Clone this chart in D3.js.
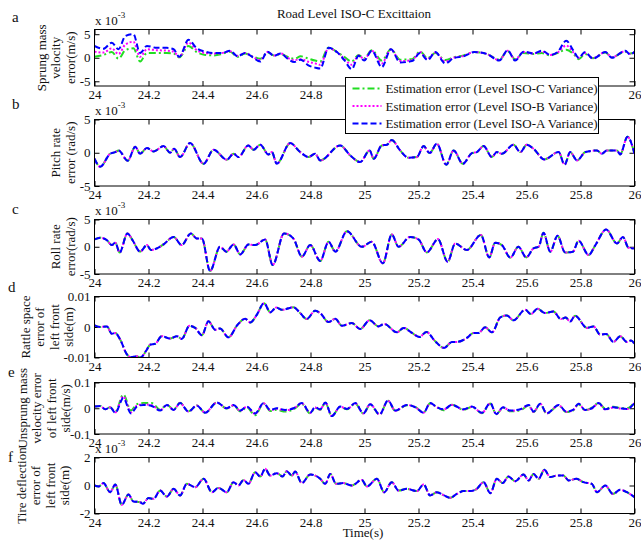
<!DOCTYPE html>
<html>
<head>
<meta charset="utf-8">
<script src="https://cdn.jsdelivr.net/npm/d3@7"></script>
<style>
  body { margin: 0; background: #fff; }
  text { font-family: "Liberation Serif", "Times New Roman", serif; font-size: 13px; fill: #111; }
</style>
</head>
<body>
<svg width="641" height="547"></svg>
<script>
// ---------------- data ----------------
var seriesNames = ["Estimation error (Level ISO-C Variance)",
                   "Estimation error (Level ISO-B Variance)",
                   "Estimation error (Level ISO-A Variance)"];

// a: sprung mass velocity error (x1e-3 m/s)
var tA = [24.000,24.033,24.064,24.089,24.114,24.144,24.169,24.194,24.231,24.268,24.293,24.314,24.348,24.379,24.410,24.441,24.472,24.502,24.530,24.558,24.586,24.614,24.641,24.665,24.690,24.715,24.740,24.764,24.789,24.817,
          24.836,24.867,24.898,24.925,24.953,24.978,24.999,25.027,25.064,25.098,25.132,25.176,25.206,25.234,25.262,25.299,25.330,25.367,25.406,25.453,25.499,25.530,25.558,25.589,25.626,25.657,25.688,25.715,25.747,25.774,25.793,25.817,25.846,25.892,25.916,25.966,25.984,26.000];
var aIsoA = [2.5,1.9,3.2,1.8,4.6,5.0,1.0,2.5,2.1,2.1,1.8,0.2,3.8,2.0,1.3,1.0,1.0,1.5,0.3,1.0,0.1,-0.8,1.3,0.4,0.9,-0.2,-0.9,-0.4,-1.5,-2.1,
             -2.3,2.1,1.2,-0.5,-2.4,0.4,-0.6,1.5,-2.0,1.8,-1.0,-0.7,1.0,-0.5,1.2,-1.2,-0.1,0.3,1.2,0.8,-0.6,1.6,-0.6,1.3,0.9,1.5,0.6,1.2,3.6,1.5,0.0,1.2,-0.2,1.2,0.0,1.5,0.7,1.3];
var aIsoB = [1.3,1.1,2.0,0.8,2.8,3.4,0.2,1.8,1.6,1.5,1.3,0.2,3.2,1.6,1.0,0.9,1.0,1.4,0.4,1.0,0.2,-0.5,1.2,0.5,0.9,0.0,-0.5,-0.3,-0.8,-1.2,
             -1.5,2.0,1.2,-0.2,-1.5,0.5,-0.3,1.5,-1.2,1.8,-0.7,-0.5,1.2,-0.3,1.1,-0.8,0.0,0.4,1.2,0.8,-0.5,1.5,-0.4,1.2,0.9,1.3,0.6,1.1,2.6,1.1,0.0,1.0,-0.1,1.2,0.1,1.4,0.8,1.2];
var aIsoC = [0.2,0.6,1.2,-0.2,1.6,2.0,-0.8,1.0,1.0,1.0,0.9,0.1,2.5,1.2,0.6,0.5,0.8,1.3,0.2,0.9,0.3,-0.2,1.1,0.5,0.8,0.2,-0.2,0.3,-0.1,-0.6,
             -0.8,2.2,1.2,0.2,-0.8,0.6,-0.1,1.6,-0.6,1.8,-0.4,-0.3,1.3,-0.1,1.0,-0.5,0.1,0.5,1.2,0.8,-0.4,1.4,-0.3,1.0,0.8,1.0,0.5,1.0,1.7,0.8,-0.3,0.8,-0.1,1.1,0.1,1.3,0.9,1.1];

// b: pitch rate error (x1e-3 rad/s), the three estimates coincide
var tB = [24.000,24.021,24.058,24.077,24.089,24.123,24.151,24.169,24.194,24.219,24.256,24.280,24.295,24.317,24.354,24.404,24.441,24.490,24.515,24.533,24.570,24.589,24.614,24.644,24.657,24.675,24.725,24.762,24.793,24.817,
          24.836,24.910,24.947,24.984,25.019,25.034,25.064,25.083,25.101,25.132,25.163,25.194,25.219,25.241,25.268,25.303,25.330,25.364,25.398,25.416,25.441,25.472,25.490,25.509,25.552,25.577,25.601,25.626,25.666,25.719,25.741,25.762,25.787,25.818,25.861,25.879,25.898,25.935,25.947,25.974,26.000];
var bErr = [-0.9,-2.1,-0.15,0.1,0.35,-1.2,0.9,-0.15,0.7,0.2,1.0,0.0,0.6,-0.65,1.45,-1.65,0.45,-1.05,-0.15,-0.65,1.1,0.45,1.2,-0.25,0.1,-1.65,1.45,0.1,-0.65,-0.15,
            -1.15,1.1,-0.4,-1.4,0.35,-0.9,1.1,1.2,1.9,0.35,-0.75,-0.65,1.0,-0.05,1.35,-1.8,0.35,-1.65,-0.05,0.1,1.0,-0.65,0.1,-0.15,1.2,0.1,1.2,0.6,-1.0,0.1,-1.8,0.1,-1.15,0.1,0.35,-0.15,0.35,0.35,-0.25,2.4,-0.15];

// c: roll rate error (x1e-3 rad/s)
var tC = [24.000,24.021,24.046,24.064,24.077,24.093,24.122,24.141,24.169,24.194,24.209,24.231,24.256,24.293,24.323,24.357,24.379,24.398,24.428,24.465,24.488,24.515,24.540,24.570,24.595,24.632,24.660,24.702,24.737,24.768,24.799,
          24.836,24.867,24.892,24.935,24.990,25.027,25.068,25.101,25.126,25.169,25.200,25.231,25.272,25.308,25.336,25.379,25.431,25.462,25.484,25.509,25.540,25.570,25.599,25.626,25.645,25.663,25.688,25.715,25.743,25.772,25.793,25.830,25.854,25.895,25.935,25.957,25.978,26.000];
var cErr = [1.35,1.65,1.2,0.3,0.75,-1.05,2.45,1.2,-0.9,0.3,-0.6,-0.3,0.45,1.8,0.3,2.45,1.5,1.5,-4.45,0.0,-0.9,0.4,-1.4,0.4,0.3,1.35,-3.35,2.45,1.5,-1.8,0.3,
            -2.6,0.9,-0.9,2.85,0.0,0.9,-3.05,2.25,0.0,1.8,1.35,-1.05,1.4,-2.75,0.6,-0.6,2.15,-1.95,0.75,0.3,-2.0,0.0,-1.95,-0.3,0.0,2.55,-0.9,2.0,-1.05,-0.9,1.1,-1.5,0.2,3.15,0.6,1.8,-0.2,-0.3];

// d: rattle space error, left front (x1e-3 m)
var tD = [24.000,24.021,24.046,24.064,24.077,24.095,24.120,24.135,24.157,24.169,24.194,24.206,24.225,24.249,24.280,24.305,24.323,24.352,24.373,24.398,24.422,24.447,24.465,24.496,24.530,24.558,24.577,24.601,24.628,24.651,24.673,24.694,24.737,24.762,24.786,24.817,
          24.836,24.867,24.892,24.916,24.953,24.984,25.019,25.052,25.073,25.120,25.145,25.176,25.204,25.229,25.262,25.295,25.324,25.342,25.379,25.404,25.422,25.447,25.472,25.503,25.527,25.552,25.595,25.616,25.641,25.669,25.700,25.727,25.745,25.762,25.780,25.824,25.848,25.873,25.895,25.922,25.947,25.972,25.987,26.000];
var dErr = [0.55,0.0,0.2,-2.2,-2.0,-4.1,-9.0,-9.9,-9.6,-10.1,-7.4,-5.8,-5.5,-3.0,-3.8,-3.0,-3.9,0.4,-0.3,-2.7,1.85,-0.9,-0.5,-3.4,0.75,2.7,1.5,4.0,7.8,4.8,6.4,5.65,6.5,4.55,2.6,5.3,
            4.55,1.6,2.7,0.4,1.3,-0.65,2.2,0.2,1.0,-1.75,-0.3,-1.95,-3.25,-1.6,-4.7,-6.85,-4.9,-4.9,-3.6,-1.95,-1.95,-0.1,-1.75,3.15,3.8,2.2,5.65,4.25,6.0,4.55,5.1,2.6,3.1,1.8,3.7,-0.3,0.2,-2.5,-2.3,-4.9,-3.0,-4.9,-4.45,-5.5];

// e: unsprung mass velocity error, left front (x1e-2 m/s)
var tE = [24.000,24.021,24.040,24.058,24.077,24.107,24.135,24.157,24.181,24.212,24.243,24.268,24.293,24.317,24.348,24.379,24.410,24.453,24.490,24.515,24.540,24.564,24.595,24.626,24.651,24.675,24.706,24.737,24.768,24.799,24.817,
          24.836,24.855,24.879,24.910,24.935,24.966,24.996,25.021,25.056,25.087,25.114,25.157,25.188,25.219,25.243,25.268,25.293,25.324,25.367,25.398,25.435,25.466,25.488,25.513,25.540,25.577,25.608,25.626,25.651,25.675,25.719,25.747,25.772,25.793,25.817,25.842,25.867,25.892,25.922,25.947,25.972,26.000];
var eIsoA = [0.65,0.9,-0.4,0.4,-1.75,4.0,-2.0,0.65,1.3,0.9,-0.9,1.3,-0.65,2.0,-1.3,1.05,-1.75,2.25,0.0,1.3,-0.9,0.65,-2.0,2.0,-0.65,0.0,-0.65,0.0,2.0,-1.75,0.4,
             -0.4,2.25,-3.05,0.65,-0.25,2.0,-2.0,1.6,-2.4,3.05,-0.9,1.3,0.4,-1.75,2.0,0.4,-0.4,1.3,-0.4,0.65,-1.75,2.0,-2.25,0.4,-0.9,-0.4,1.3,-1.3,1.75,-2.0,1.3,-1.3,-0.65,1.75,-0.65,0.0,2.0,-0.4,0.4,0.0,-0.25,2.0];
var eIsoB = [0.65,0.9,-0.4,0.4,-1.6,4.6,-1.6,1.0,1.5,1.2,-0.8,1.3,-0.6,2.0,-1.3,1.05,-1.7,2.2,0.0,1.2,-1.0,0.6,-2.2,1.9,-0.8,-0.2,-0.8,-0.1,1.9,-1.8,0.3,
             -0.5,2.2,-3.0,0.6,-0.3,1.9,-2.0,1.6,-2.4,3.0,-1.0,1.3,0.4,-1.7,1.9,0.4,-0.5,1.3,-0.5,0.6,-1.8,1.9,-2.3,0.3,-1.0,-0.5,1.2,-1.4,1.7,-2.0,1.2,-1.4,-0.8,1.7,-0.7,-0.1,1.9,-0.5,0.3,-0.1,-0.3,2.1];
var eIsoC = [0.65,0.9,-0.4,0.4,-1.4,5.3,-0.9,1.6,2.0,2.0,-0.6,1.4,-0.5,2.1,-1.2,1.1,-1.8,2.2,-0.1,1.1,-1.2,0.3,-2.7,1.8,-1.1,-0.6,-1.3,-0.5,1.7,-2.0,0.2,
             -0.6,2.1,-3.0,0.5,-0.4,1.8,-2.1,1.5,-2.5,2.9,-1.0,1.2,0.5,-1.6,1.9,0.5,-0.8,1.4,-0.6,0.5,-1.9,1.8,-2.3,0.2,-1.2,-0.8,1.1,-1.5,1.6,-2.1,1.1,-1.5,-0.9,1.6,-0.8,0.2,2.0,-0.2,0.6,0.1,0.0,2.4];

// f: tire deflection error, left front (x1e-3 m)
var tF = [24.000,24.015,24.033,24.058,24.077,24.101,24.126,24.144,24.169,24.179,24.200,24.219,24.243,24.268,24.293,24.317,24.342,24.373,24.404,24.435,24.459,24.490,24.515,24.533,24.552,24.570,24.595,24.614,24.632,24.651,24.675,24.697,24.712,24.731,24.743,24.768,24.799,
          24.836,24.855,24.873,24.895,24.922,24.953,24.990,25.009,25.046,25.073,25.101,25.126,25.157,25.194,25.219,25.243,25.268,25.295,25.317,25.342,25.367,25.392,25.416,25.441,25.466,25.490,25.512,25.533,25.558,25.589,25.608,25.626,25.645,25.666,25.688,25.712,25.737,25.756,25.784,25.811,25.842,25.861,25.892,25.920,25.947,25.972,26.000];
var fErr = [0.0,-0.07,0.17,-0.48,0.07,-1.38,-0.64,-1.14,-1.19,-1.31,-0.9,-0.95,-0.36,-0.79,-0.24,-0.71,0.12,-0.12,0.48,-0.48,-0.17,-0.48,0.24,0.0,0.4,0.12,0.95,0.64,1.19,0.71,0.88,0.64,1.02,0.71,1.0,0.17,0.79,
            0.48,0.12,0.83,0.12,0.17,0.0,0.4,-0.07,0.48,-0.48,0.24,-0.36,-0.24,-0.4,0.07,-0.71,-0.48,-0.71,-0.88,-0.6,-0.4,-0.4,-0.24,0.24,-0.55,0.48,0.17,0.64,0.31,0.79,0.36,0.83,0.48,1.12,0.6,0.71,0.71,0.36,0.48,0.24,0.12,-0.48,0.0,-0.6,-0.31,-0.48,-0.83];

// ---------------- layout ----------------
var svg = d3.select("svg");
var x = d3.scaleLinear().domain([24, 26]).range([94.5, 634.5]);
var colors = ["#22dd22", "#ff00ff", "#0000ff"];
var dashes = ["7,3,2,3", "2,2", "6,3"];

// legend box (drawn last); panel a tick labels under it are hidden as in the figure
var legBox = {x: 345.5, y: 77.5, w: 253, h: 56};

var panels = [
  {id: "a", top: 29.5, bottom: 86, dom: [-6, 6], ticks: [-5, 0, 5], fmt: ["-5", "0", "5"], exp: true,
   label: ["Sprung mass", "velocity", "error(m/s)"], lx: 74.5, t: tA, s: [aIsoC, aIsoB, aIsoA]},
  {id: "b", top: 119.5, bottom: 186, dom: [-5, 5], ticks: [-5, 0, 5], fmt: ["-5", "0", "5"], exp: true,
   label: ["Pitch rate", "error (rad/s)"], lx: 74.5, t: tB, s: [bErr, bErr, bErr]},
  {id: "c", top: 219.5, bottom: 274, dom: [-5, 5], ticks: [-5, 0, 5], fmt: ["-5", "0", "5"], exp: true,
   label: ["Roll rate", "error(rad/s)"], lx: 74.5, t: tC, s: [cErr, cErr, cErr]},
  {id: "d", top: 296.5, bottom: 357.5, dom: [-10, 10], ticks: [-10, 0, 10], fmt: ["-0.01", "0", "0.01"], exp: false,
   label: ["Rattle space", "error of", "left front", "side(m)"], lx: 73, t: tD, s: [dErr, dErr, dErr]},
  {id: "e", top: 382.5, bottom: 434, dom: [-10, 10], ticks: [-10, 0, 10], fmt: ["-0.1", "0", "0.1"], exp: false,
   label: ["Unsprung mass", "velocity error", "of left front", "side(m/s)"], lx: 70, t: tE, s: [eIsoC, eIsoB, eIsoA]},
  {id: "f", top: 457.5, bottom: 513.5, dom: [-2, 2], ticks: [-2, 0, 2], fmt: ["-2", "0", "2"], exp: true,
   label: ["Tire deflection", "error of", "left front", "side(m)"], lx: 69, t: tF, s: [fErr, fErr, fErr]}
];
var letterPos = {a: [12, 22], b: [12, 109], c: [12, 214], d: [8, 292], e: [8, 377], f: [8, 462]};

panels.forEach(function(p, i) {
  var y = d3.scaleLinear().domain(p.dom).range([p.bottom, p.top]);
  var g = svg.append("g");

  g.append("clipPath").attr("id", "clip" + i)
    .append("rect").attr("x", x.range()[0]).attr("y", p.top)
    .attr("width", x.range()[1] - x.range()[0]).attr("height", p.bottom - p.top);

  // axes, MATLAB-style ticks pointing inward on all four sides
  var xt = x.ticks(10);
  g.append("g").attr("transform", "translate(0," + p.bottom + ")")
    .call(d3.axisBottom(x).tickValues(xt).tickSizeInner(-5).tickSizeOuter(0).tickPadding(4)
      .tickFormat(function(d) { return String(+d.toFixed(1)); }));
  g.append("g").attr("transform", "translate(0," + p.top + ")")
    .call(d3.axisTop(x).tickValues(xt).tickSizeInner(-5).tickSizeOuter(0).tickFormat(""));
  g.append("g").attr("transform", "translate(" + x.range()[0] + ",0)")
    .call(d3.axisLeft(y).tickValues(p.ticks).tickSizeInner(-5).tickSizeOuter(0).tickPadding(4)
      .tickFormat(function(d, k) { return p.fmt[k]; }));
  g.append("g").attr("transform", "translate(" + x.range()[1] + ",0)")
    .call(d3.axisRight(y).tickValues(p.ticks).tickSizeInner(-5).tickSizeOuter(0).tickFormat(""));
  g.selectAll(".domain").remove();
  g.selectAll(".tick line").attr("stroke", "#000");
  g.selectAll(".tick text").attr("fill", "#111").style("font-size", "13px")
    .style("font-family", "'Liberation Serif', serif");
  if (p.id === "a") {
    g.selectAll(".tick text").filter(function(d) {
      return typeof d === "number" && p.dom[0] !== d && x(d) > legBox.x && x(d) < legBox.x + legBox.w && xt.indexOf(d) >= 0 && p.ticks.indexOf(d) < 0;
    }).remove();
  }

  // series: C (green), B (magenta), A (blue)
  var line = d3.line().curve(d3.curveMonotoneX)
    .x(function(d, k) { return x(p.t[k]); })
    .y(function(d) { return y(d); });
  p.s.forEach(function(vals, k) {
    g.append("path").datum(vals)
      .attr("clip-path", "url(#clip" + i + ")")
      .attr("fill", "none").attr("stroke", colors[k]).attr("stroke-width", 2)
      .attr("stroke-dasharray", dashes[k]).attr("d", line);
  });

  g.append("rect").attr("x", x.range()[0]).attr("y", p.top)
    .attr("width", x.range()[1] - x.range()[0]).attr("height", p.bottom - p.top)
    .attr("fill", "none").attr("stroke", "#000").attr("stroke-width", 1);

  if (p.exp) {
    var ex = g.append("text").attr("x", 95).attr("y", p.top - 4.5);
    ex.append("tspan").text("x 10");
    ex.append("tspan").attr("dy", -7).style("font-size", "9px").text("-3");
  }

  // y label, rotated, one line per row
  var cy = (p.top + p.bottom) / 2;
  var n = p.label.length;
  p.label.forEach(function(s, k) {
    var lx = p.lx - (n - 1 - k) * 14.5;
    g.append("text").attr("text-anchor", "middle")
      .attr("transform", "translate(" + lx + "," + cy + ") rotate(-90)")
      .text(s);
  });

  g.append("text").attr("x", letterPos[p.id][0]).attr("y", letterPos[p.id][1])
    .style("font-size", "15px").text(p.id);
});

svg.append("text").attr("x", 354).attr("y", 18).attr("text-anchor", "middle")
  .text("Road Level ISO-C Excittaion");
svg.append("text").attr("x", 363).attr("y", 537).attr("text-anchor", "middle")
  .text("Time(s)");

// legend
var leg = svg.append("g").attr("transform", "translate(" + legBox.x + "," + legBox.y + ")");
leg.append("rect").attr("width", legBox.w).attr("height", legBox.h)
  .attr("fill", "#fff").attr("stroke", "#000").attr("stroke-width", 1);
seriesNames.forEach(function(name, k) {
  var yy = 11 + k * 17.5;
  leg.append("line").attr("x1", 7).attr("x2", 36).attr("y1", yy).attr("y2", yy)
    .attr("stroke", colors[k]).attr("stroke-width", 2).attr("stroke-dasharray", dashes[k]);
  leg.append("text").attr("x", 40).attr("y", yy).attr("dy", "0.35em").text(name);
});
</script>
</body>
</html>
